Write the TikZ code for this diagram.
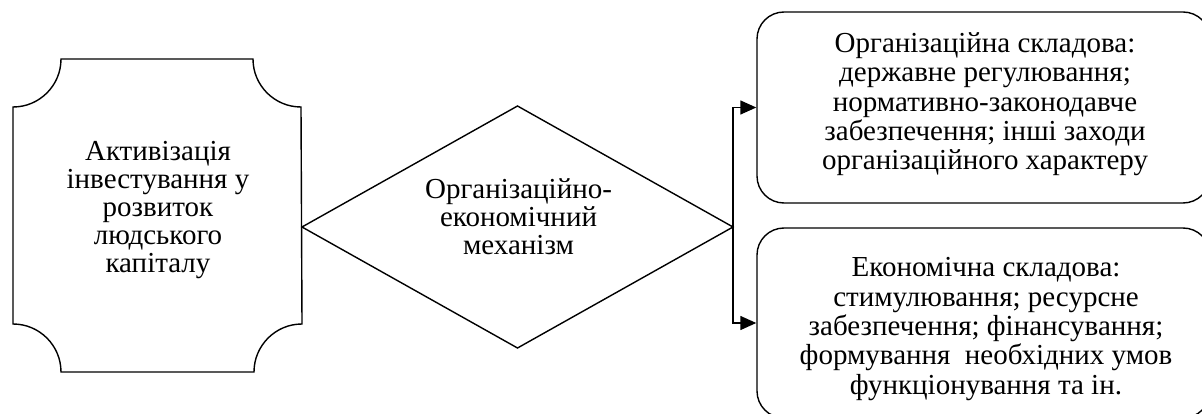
\documentclass[tikz,border=0pt]{standalone}
\usepackage{fontspec}
\setmainfont{Liberation Serif}
\usetikzlibrary{shapes.geometric,arrows.meta}
\begin{document}
\begin{tikzpicture}[x=1pt,y=-1pt,
  line width=1.4pt,
  txt/.style={align=center,font=\fontsize{29}{28}\selectfont,inner sep=0pt},
  btxt/.style={align=center,font=\fontsize{29}{29.3}\selectfont,inner sep=0pt},
  rbox/.style={draw,rectangle,rounded corners=27pt,inner sep=0pt},
  arr/.style={-{Triangle[length=16pt,width=14pt]}}]
\useasboundingbox (0,0) rectangle (1202,414);
\clip (0,0) rectangle (1202,414);
% plaque
\draw (61,59) -- (253,59) arc[start angle=-180,end angle=-270,radius=48]
  -- (302,324) arc[start angle=-90,end angle=-180,radius=48]
  -- (61,372) arc[start angle=0,end angle=-90,radius=48]
  -- (13,107) arc[start angle=-270,end angle=-360,radius=48] -- cycle;
\node[txt] (a) at (158,210) {Активізація\\інвестування у\\розвиток\\людського\\капіталу};
% diamond
\node[draw,diamond,inner sep=0pt,outer sep=0pt,minimum width=431pt,minimum height=242pt] (d) at (517.5,227) {};
\node[txt] (dt) at (518.5,217) {Організаційно-\\економічний\\механізм};
% boxes
\node[rbox,minimum width=453pt,minimum height=191pt] (b1) at (983.5,107.5) {};
\node[btxt] (t1) at (985,104.5) {Організаційна складова:\\державне регулювання;\\нормативно-законодавче\\забезпечення; інші заходи\\організаційного характеру};
\node[rbox,minimum width=453pt,minimum height=190pt] (b2) at (983.5,323) {};
\node[btxt] (t2) at (986,329) {Економічна складова:\\стимулювання; ресурсне\\забезпечення; фінансування;\\формування\ \ необхідних умов\\функціонування та ін.};
% connectors
\draw[arr] (d.east) |- (b1.west);
\draw[arr] (d.east) |- (b2.west);
\end{tikzpicture}
\end{document}
